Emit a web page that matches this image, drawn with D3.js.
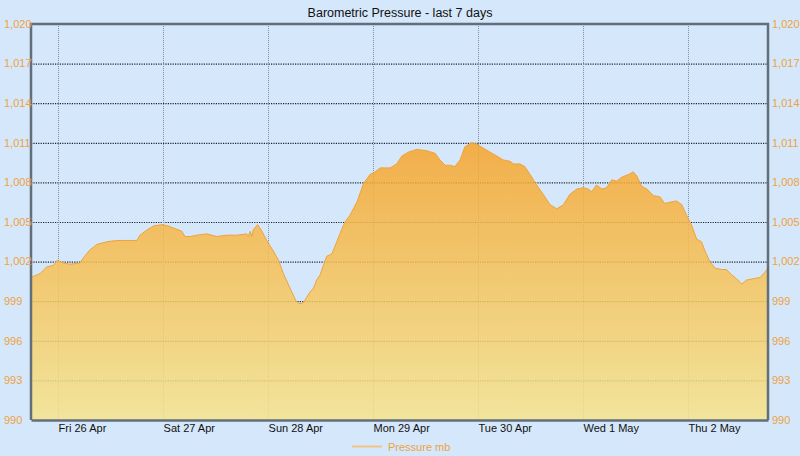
<!DOCTYPE html>
<html>
<head>
<meta charset="utf-8">
<script src="https://cdn.jsdelivr.net/npm/d3@7"></script>
<style>
  body { margin: 0; background: #d5e7fb; }
  svg { display: block; font-family: "Liberation Sans", Arial, sans-serif; }
</style>
</head>
<body>
<div id="chart"></div>
<script>
// Readings: hours after Fri 26 Apr 00:00, and pressure in mb
const hours = [
  -6.2, -4.1, -2.6, -1.1, -0.2, 1.2, 2.7, 5.0, 5.8, 7.3, 8.9, 11.1, 13.4, 14.9, 16.5, 18.0,
  18.7, 20.3, 21.8, 23.7, 25.2, 26.7, 28.3, 29.0, 30.2, 31.7, 34.0, 36.3, 38.6, 40.9, 43.1, 43.5,
  43.9, 44.3, 44.6, 45.6, 46.6, 47.7, 49.2, 50.4, 51.5, 53.0, 54.4, 55.3, 56.1, 57.6, 58.4, 59.1,
  59.9, 61.4, 62.6, 63.7, 64.9, 65.6, 66.7, 68.3, 69.8, 71.3, 72.5, 73.6, 74.7, 75.9, 77.4, 78.6,
  80.1, 82.0, 84.3, 86.2, 87.3, 88.5, 89.6, 90.7, 91.9, 93.0, 94.6, 95.7, 97.2, 98.7, 100.3, 101.8,
  103.3, 104.1, 105.6, 106.7, 107.9, 109.4, 110.9, 112.5, 114.0, 115.5, 117.0, 118.6, 120.1, 121.2, 122.0, 123.1,
  124.3, 125.4, 126.6, 127.7, 128.9, 130.4, 131.5, 132.3, 133.4, 134.6, 136.1, 137.6, 138.7, 139.9, 141.4, 142.6,
  143.7, 144.9, 146.0, 147.1, 147.9, 149.0, 150.2, 151.7, 152.8, 154.0, 155.1, 156.3, 157.4, 158.9, 160.5, 161.6,
  162.3
];
const pressure = [
  1000.8, 1001.1, 1001.6, 1001.7, 1002.1, 1001.9, 1001.8, 1001.9, 1002.3, 1002.9, 1003.3, 1003.5, 1003.6, 1003.6, 1003.6, 1003.6,
  1004.0, 1004.4, 1004.7, 1004.8, 1004.7, 1004.5, 1004.3, 1003.9, 1003.9, 1004.0, 1004.1, 1003.9, 1004.0, 1004.0, 1004.1, 1003.9,
  1004.3, 1003.9, 1004.4, 1004.8, 1004.3, 1003.6, 1002.8, 1002.1, 1001.1, 1000.0, 999.0, 998.8, 998.9, 999.7, 1000.0, 1000.6,
  1001.0, 1002.4, 1002.6, 1003.5, 1004.5, 1005.0, 1005.5, 1006.5, 1007.9, 1008.6, 1008.8, 1009.1, 1009.1, 1009.1, 1009.4, 1010.0,
  1010.3, 1010.5, 1010.4, 1010.2, 1009.7, 1009.3, 1009.3, 1009.2, 1009.7, 1010.7, 1011.0, 1010.9, 1010.6, 1010.3, 1010.0, 1009.7,
  1009.6, 1009.4, 1009.4, 1009.2, 1008.6, 1007.8, 1007.1, 1006.3, 1006.0, 1006.3, 1007.1, 1007.5, 1007.6, 1007.5, 1007.3, 1007.8,
  1007.5, 1007.6, 1008.2, 1008.1, 1008.4, 1008.6, 1008.8, 1008.5, 1007.7, 1007.5, 1007.0, 1006.9, 1006.4, 1006.5, 1006.6, 1006.3,
  1005.5, 1004.7, 1003.7, 1003.5, 1002.8, 1002.0, 1001.5, 1001.4, 1001.4, 1001.0, 1000.7, 1000.3, 1000.6, 1000.7, 1000.8, 1001.2,
  1001.5
];
const yTicks = [990, 993, 996, 999, 1002, 1005, 1008, 1011, 1014, 1017, 1020];
const startDay = new Date(2024, 3, 26, 0, 0);

const data = hours.map((h, i) => ({
  date: new Date(startDay.getTime() + h * 3600 * 1000),
  value: pressure[i]
}));

const width = 800, height = 456;
const margin = { top: 24, right: 32, bottom: 36, left: 31 };
const innerW = width - margin.left - margin.right;
const innerH = height - margin.top - margin.bottom;

const svg = d3.select("#chart").append("svg")
  .attr("width", width)
  .attr("height", height);

const x = d3.scaleTime()
  .domain(d3.extent(data, d => d.date))
  .range([margin.left, margin.left + innerW]);

const y = d3.scaleLinear()
  .domain([990, 1020])
  .range([margin.top + innerH, margin.top]);

const dayTicks = d3.timeDay.range(d3.timeDay.ceil(x.domain()[0]), x.domain()[1]);

// Gradient for the area fill
const grad = svg.append("defs").append("linearGradient")
  .attr("id", "fillGrad")
  .attr("x1", 0).attr("y1", 0).attr("x2", 0).attr("y2", 1);
grad.append("stop").attr("offset", "0%").attr("stop-color", "#f7a42a");
grad.append("stop").attr("offset", "100%").attr("stop-color", "#f6e48b");

// Horizontal grid
svg.append("g")
  .selectAll("line")
  .data(yTicks.filter(d => d > 990 && d < 1020))
  .join("line")
  .attr("x1", margin.left).attr("x2", margin.left + innerW)
  .attr("y1", d => y(d) + 0.5).attr("y2", d => y(d) + 0.5)
  .attr("stroke", "#1c2430")
  .attr("stroke-width", 1.2)
  .attr("stroke-dasharray", "1.2,1.2");

// Vertical grid
svg.append("g")
  .selectAll("line")
  .data(dayTicks)
  .join("line")
  .attr("x1", d => Math.round(x(d)) + 0.5).attr("x2", d => Math.round(x(d)) + 0.5)
  .attr("y1", margin.top).attr("y2", margin.top + innerH)
  .attr("stroke", "#7f8ea5")
  .attr("stroke-width", 1)
  .attr("stroke-dasharray", "1,1");

// Area and line
const area = d3.area()
  .x(d => x(d.date))
  .y0(y(990))
  .y1(d => y(d.value));

const line = d3.line()
  .x(d => x(d.date))
  .y(d => y(d.value));

svg.append("path")
  .datum(data)
  .attr("d", area)
  .attr("fill", "url(#fillGrad)")
  .attr("fill-opacity", 0.85);

svg.append("path")
  .datum(data)
  .attr("d", line)
  .attr("fill", "none")
  .attr("stroke", "#f0a23a")
  .attr("stroke-width", 1);

// Frame
const frameColor = "#636e7b";
svg.append("path")
  .attr("d", `M${margin.left},${margin.top + innerH}V${margin.top}H${margin.left + innerW}V${margin.top + innerH}`)
  .attr("fill", "none")
  .attr("stroke", frameColor)
  .attr("stroke-width", 2.5);

// Bottom axis
const xAxis = svg.append("g")
  .attr("transform", `translate(0,${margin.top + innerH})`)
  .call(d3.axisBottom(x).tickValues(dayTicks).tickSize(0).tickFormat(d3.timeFormat("%a %-d %b")));
xAxis.select(".domain").attr("stroke", frameColor).attr("stroke-width", 2.5);
xAxis.selectAll("text")
  .attr("text-anchor", "start")
  .attr("dx", 0)
  .attr("dy", "0.95em")
  .attr("y", 2)
  .attr("fill", "#111")
  .style("font-size", "11px");

// Y tick labels, both sides
const fmt = d3.format(",");
["left", "right"].forEach(side => {
  svg.append("g")
    .selectAll("text")
    .data(yTicks)
    .join("text")
    .attr("x", side === "left" ? 4 : margin.left + innerW + 4)
    .attr("y", d => y(d))
    .attr("dy", "0.35em")
    .attr("fill", "#f0a23a")
    .style("font-size", "11px")
    .text(d => fmt(d));
});

// Title
svg.append("text")
  .attr("x", width / 2)
  .attr("y", 17)
  .attr("text-anchor", "middle")
  .attr("fill", "#111")
  .style("font-size", "12.5px")
  .text("Barometric Pressure - last 7 days");

// Legend
svg.append("line")
  .attr("x1", 352).attr("x2", 382)
  .attr("y1", 446.5).attr("y2", 446.5)
  .attr("stroke", "#f2c282")
  .attr("stroke-width", 2);
svg.append("text")
  .attr("x", 388)
  .attr("y", 451)
  .attr("fill", "#f0a23a")
  .style("font-size", "11px")
  .text("Pressure mb");
</script>
</body>
</html>
